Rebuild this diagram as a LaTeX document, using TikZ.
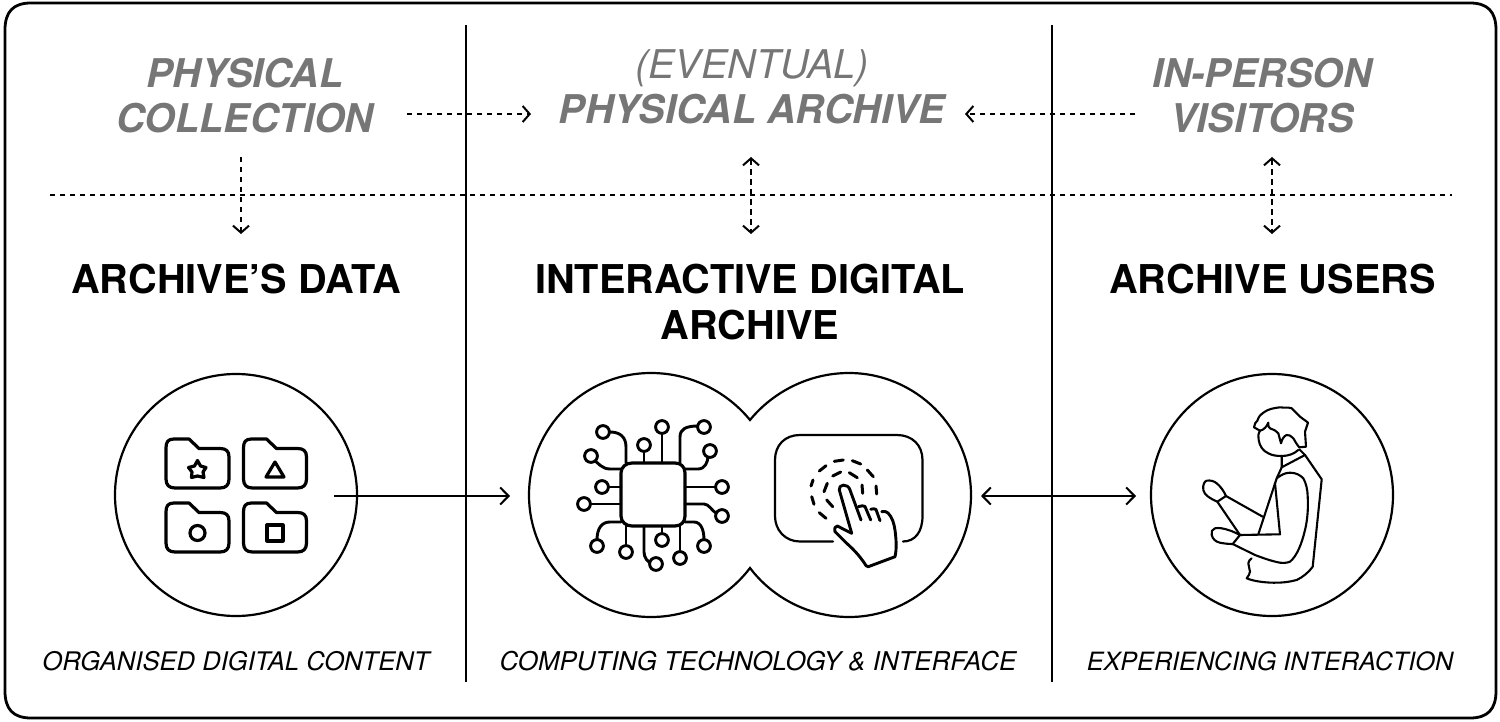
\documentclass[tikz,border=0pt]{standalone}
\usepackage{fontspec}
\setmainfont{TeX Gyre Heros}
\usetikzlibrary{arrows.meta}
\definecolor{gry}{RGB}{118,118,118}
\tikzset{
  ttl/.style={font=\fontsize{19.85}{23}\selectfont\bfseries,align=center,text=black,inner sep=0pt},
  phys/.style={font=\fontsize{19.8}{22.5}\selectfont\bfseries\itshape,align=center,text=gry,inner sep=0pt},
  captxt/.style={font=\fontsize{12.8}{15}\selectfont\itshape,text=black,inner sep=0pt},
  rule/.style={line width=1.1pt,black},
  solidarrow/.style={line width=0.95pt,-{Straight Barb[length=4.2pt,width=8.5pt,line width=1pt]}},
  solidboth/.style={line width=0.95pt,{Straight Barb[length=4.2pt,width=8.5pt,line width=1pt]}-{Straight Barb[length=4.2pt,width=8.5pt,line width=1pt]}},
  dashline/.style={line width=0.9pt,dash pattern=on 2.7pt off 2.3pt},
  dasharrow/.style={dashline,-{Straight Barb[length=3.5pt,width=8pt,line width=1pt]}},
  dashboth/.style={dashline,{Straight Barb[length=3.5pt,width=8pt,line width=1pt]}-{Straight Barb[length=3.5pt,width=8pt,line width=1pt]}},
  icon/.style={line width=1.6pt,line join=round,line cap=round},
  iconb/.style={line width=1.45pt,line join=round,line cap=round},
  man/.style={line width=1.05pt,line join=round,line cap=round},
  ring/.style={line width=1.5pt,line cap=round},
  big/.style={line width=1.1pt},
}
\newcommand{\folder}[2]{%
 \begin{scope}[shift={(#1,#2)}]
 \draw[icon] (0,9) .. controls (0,3) and (2,0) .. (8,0) -- (23,0) -- (33,9.5) -- (54,9.5) .. controls (60,9.5) and (63,12) .. (63,18) -- (63,40) .. controls (63,46) and (60,49) .. (54,49) -- (9,49) .. controls (3,49) and (0,46) .. (0,40) -- cycle;
 \end{scope}}
\newcommand{\chipend}[2]{\draw[iconb,fill=white] (#1,#2) circle (6.4);}
\begin{document}
\begin{tikzpicture}[x=0.5pt,y=-0.5pt]
\useasboundingbox (0,0) rectangle (1500,722);
\draw[line width=1.4pt,black] (5,30) .. controls (5,12) and (13,3) .. (31,3) -- (1470,3) .. controls (1488,3) and (1496,12) .. (1496,30) -- (1496,691) .. controls (1496,709) and (1488,718) .. (1470,718) -- (31,718) .. controls (13,718) and (5,709) .. (5,691) -- cycle;
\coordinate (r1t) at (466,25); \coordinate (r1b) at (466,682);
\coordinate (r2t) at (1052,25); \coordinate (r2b) at (1052,682);
\draw[rule] (r1t) -- (r1b);
\draw[rule] (r2t) -- (r2b);
\coordinate (hl) at (50,195); \coordinate (hr) at (1452,195);
\draw[dashline] (hl) -- (hr);
% texts
\node[phys] (pc) at (245,96) {PHYSICAL\\COLLECTION};
\node[phys] (pa) at (752,87) {{\mdseries (EVENTUAL)}\\PHYSICAL ARCHIVE};
\node[phys] (pv) at (1262,96) {IN-PERSON\\VISITORS};
\node[ttl] (t1) at (236,279) {ARCHIVE’S DATA};
\node[ttl] (t2) at (750,302) {INTERACTIVE DIGITAL\\ARCHIVE};
\node[ttl] (t3) at (1272.5,279) {ARCHIVE USERS};
\node[captxt] (c1) at (236,661) {ORGANISED DIGITAL CONTENT};
\node[captxt,font=\fontsize{12.93}{15}\selectfont\itshape] (c2) at (758,661) {COMPUTING TECHNOLOGY \& INTERFACE};
\node[captxt,font=\fontsize{12.6}{15}\selectfont\itshape] (c3) at (1270,661) {EXPERIENCING INTERACTION};
% dashed arrows
\coordinate (a1) at (407,114); \coordinate (a2) at (531,114);
\coordinate (a3) at (1135,114); \coordinate (a4) at (965,114);
\draw[dasharrow] (a1) -- (a2);
\draw[dasharrow] (a3) -- (a4);
\coordinate (d1t) at (241,157); \coordinate (d1b) at (241,234);
\coordinate (d2t) at (751,157); \coordinate (d2b) at (751,234);
\coordinate (d3t) at (1272,157); \coordinate (d3b) at (1272,234);
\draw[dasharrow] (d1t) -- (d1b);
\draw[dashboth] (d2t) -- (d2b);
\draw[dashboth] (d3t) -- (d3b);
% circles
\node[draw,circle,big,minimum size=121pt,inner sep=0pt] (cl) at (236,495) {};
\node[draw,circle,big,minimum size=121pt,inner sep=0pt] (cr) at (1272,495) {};
\draw[big] (750,420) .. controls (728,393) and (692,373) .. (651,373) .. controls (584,373) and (529,428) .. (529,495) .. controls (529,562) and (584,617) .. (651,617) .. controls (692,617) and (728,597) .. (750,568) .. controls (772,597) and (808,617) .. (849,617) .. controls (916,617) and (971,562) .. (971,495) .. controls (971,428) and (916,373) .. (849,373) .. controls (808,373) and (772,393) .. (750,420) -- cycle;
% solid arrows
\coordinate (s1) at (334,496); \coordinate (s2) at (510,496);
\coordinate (s3) at (981,496); \coordinate (s4) at (1136,496);
\draw[solidarrow] (s1) -- (s2);
\draw[solidboth] (s3) -- (s4);
% folders
\folder{166}{439}\folder{243.5}{439}\folder{166}{503}\folder{243.5}{503}
\draw[icon] (197.5,460.5) -- (200.5,466) -- (206,467.5) -- (203,472) -- (204,477.5) -- (197.5,476) -- (191.5,477.5) -- (192,472) -- (188.5,467.5) -- (194.5,466) -- cycle;
\draw[icon] (275,462) -- (284,477) -- (266,477) -- cycle;
\draw[icon] (197.5,533) circle (7.5);
\draw[icon] (267,525) rectangle (283,541);
% chip
\begin{scope}[iconb]
\draw[line width=1.6pt] (632,463) -- (675,463) .. controls (681,463) and (685,467) .. (685,473) -- (685,516) .. controls (685,522) and (681,526) .. (675,526) -- (632,526) .. controls (626,526) and (621,522) .. (621,516) -- (621,473) .. controls (621,467) and (626,463) .. (632,463) -- cycle;
\draw (626,463) -- (626,447) .. controls (626,437) and (620,432) .. (610,432);
\draw (621,469) -- (610,469) .. controls (602,469) and (598,463) .. (593,459);
\draw (621,487) -- (608,487);
\draw (621,504) -- (590,504);
\draw (644,463) -- (644,453);
\draw (662,463) -- (662,433);
\draw (680,463) -- (680,437) .. controls (680,429) and (686,426) .. (698,426);
\draw (685,469) -- (698,469) .. controls (705,469) and (708,462) .. (708,456);
\draw (685,487) -- (716,487);
\draw (685,504) -- (704,504) .. controls (709,504) and (712,511) .. (716,513);
\draw (621,522) -- (610,522) .. controls (602,522) and (597,528) .. (597,540);
\draw (626,526) -- (626,546);
\draw (644,526) -- (644,552) .. controls (644,558) and (648,562) .. (651,563);
\draw (662,526) -- (662,533);
\draw (680,526) -- (680,552);
\draw (685,522) -- (694,522) .. controls (701,522) and (704,530) .. (704,540);
\chipend{603}{432}\chipend{591}{456}\chipend{602}{487}\chipend{584}{504}
\chipend{644}{445}\chipend{662}{427}\chipend{704}{427}\chipend{710}{451}\chipend{722}{487}\chipend{722}{516}
\chipend{597}{546}\chipend{626}{552}\chipend{656}{564}\chipend{662}{540}\chipend{680}{558}\chipend{704}{546}
\end{scope}
% touch screen
\draw[line width=1.1pt,line cap=round] (833,541.5) -- (800,541.5) .. controls (785,541.5) and (775,530) .. (775,516) -- (775,460) .. controls (775,445) and (785,435) .. (800,435) -- (897,435) .. controls (912,435) and (922.5,445) .. (922.5,460) -- (922.5,516) .. controls (922.5,532) and (915,541.5) .. (903,541.5);
\draw[ring] (811,486) -- (813,480) (819.3,471) -- (826,465.7) (834.3,461.3) -- (843.3,460) (852.3,460.7) -- (860.7,464) (867.3,470) -- (873.3,476.7) (876,486) -- (876.7,494) (811.7,496.7) -- (814,504.3) (819.3,512.7) -- (826,518.3);
\draw[ring] (824,491.7) -- (827.3,483.3) (832.7,476) -- (840.7,472) (849.3,472.7) -- (857.3,477.7) (862,485) -- (862.7,493.3) (826.7,500) -- (832.7,506.7);
\draw[iconb] (851.7,533.3) -- (839.3,490) .. controls (838,484) and (848,483) .. (850,490) -- (861,520);
\draw[iconb] (858.3,506.7) .. controls (861,506) and (864,505) .. (865,506.5) -- (870.7,520);
\draw[iconb] (870.7,509.3) .. controls (873,508.5) and (875,508.5) .. (876,509.5) -- (880,520.7);
\draw[iconb] (881.7,511.7) .. controls (885,511) and (887,512) .. (888,513) .. controls (892,517) and (894,523) .. (895,530) .. controls (896,538) and (897,548) .. (895,556.7) -- (868.3,566.7) .. controls (866.5,566.5) and (865.5,565.5) .. (865,564) .. controls (859,555) and (853,549) .. (846.7,543.3) -- (835,531.7) .. controls (834,528) and (835.5,526) .. (837.3,526) -- (851.7,533.3);
% person
\begin{scope}[man]
\draw (1260,430.7) -- (1254,427.3) .. controls (1254,424) and (1256,422) .. (1257.3,420.7) .. controls (1259,416) and (1261,414) .. (1263.3,412.7) .. controls (1268,409) and (1274,408) .. (1280,407.3) .. controls (1284,408) and (1288,407) .. (1291.7,408.3) .. controls (1294,410) and (1296,413) .. (1298.3,415) .. controls (1301,418) and (1305,420) .. (1308,422.7) -- (1305,431.7) -- (1306,446.7) -- (1299.3,447.3);
\draw (1260,430.7) .. controls (1264,430) and (1267,426) .. (1268.3,422.7) .. controls (1268,426) and (1269,428) .. (1270,428.3) .. controls (1274,430) and (1277,431) .. (1278.3,433.3) -- (1281,443.3) .. controls (1282,439) and (1284,436) .. (1286.7,435) .. controls (1289,434.5) and (1291,436) .. (1293.3,438.3) .. controls (1295,441) and (1297,445) .. (1299.3,447.3);
\draw (1260,430.7) .. controls (1258,434) and (1258,437) .. (1258.7,440) .. controls (1259.5,446) and (1263,451) .. (1268.3,453.3) .. controls (1272,455.5) and (1277,456) .. (1281.7,456) .. controls (1288,456) and (1294,454) .. (1298.3,450);
\draw (1281.7,456) -- (1281.7,467.3) -- (1305,455) -- (1299.3,449.3);
\draw (1305,455) -- (1321.7,479.3) -- (1312.7,566.7) .. controls (1309,572) and (1303,577) .. (1296.7,580) .. controls (1289,582) and (1281,583) .. (1273.3,582.7) .. controls (1263,582.5) and (1253,581) .. (1246.7,578.3) .. controls (1248,576) and (1250,574) .. (1250,571.7) .. controls (1250,568) and (1248,566) .. (1248.3,563.3) .. controls (1248.5,561) and (1250,559.5) .. (1251.7,558.3);
\draw (1281.7,467.3) -- (1276.7,478.3) -- (1258.3,534.3);
\draw (1276.7,478.3) .. controls (1281,475) and (1285,472.7) .. (1290,472.7) .. controls (1296,472.7) and (1300,475) .. (1303.3,478.3) .. controls (1306,483) and (1307.7,490) .. (1307.7,496.7) .. controls (1308.5,510) and (1307,522) .. (1305,530) .. controls (1302,543) and (1297,556) .. (1290,561.7) .. controls (1287,563) and (1283,563) .. (1280,562.7) .. controls (1271,561) and (1263,558) .. (1255,555) -- (1232.7,544);
\draw (1275,483.3) -- (1280,534.3) -- (1240,535);
\draw (1262.7,516.7) -- (1226,496);
\draw (1217.3,501.7) -- (1240,535);
\draw (1226,496) -- (1217.3,501.7) .. controls (1211,499) and (1204,495) .. (1203.3,490) .. controls (1202.5,484) and (1205,481) .. (1206.7,480.7) .. controls (1210,480) and (1214,481) .. (1216.7,483.3) .. controls (1220,486) and (1224,491) .. (1226,496);
\draw (1240,535) .. controls (1236,533) and (1232,531) .. (1228.3,530) .. controls (1224,528.5) and (1219,527.5) .. (1215,528.3) .. controls (1212,529) and (1211,532) .. (1211.7,535) .. controls (1212.5,539) and (1216,542) .. (1220,542.7) .. controls (1224,543.5) and (1228,544) .. (1232.7,544) -- (1240,535);
\end{scope}
\end{tikzpicture}
\end{document}
